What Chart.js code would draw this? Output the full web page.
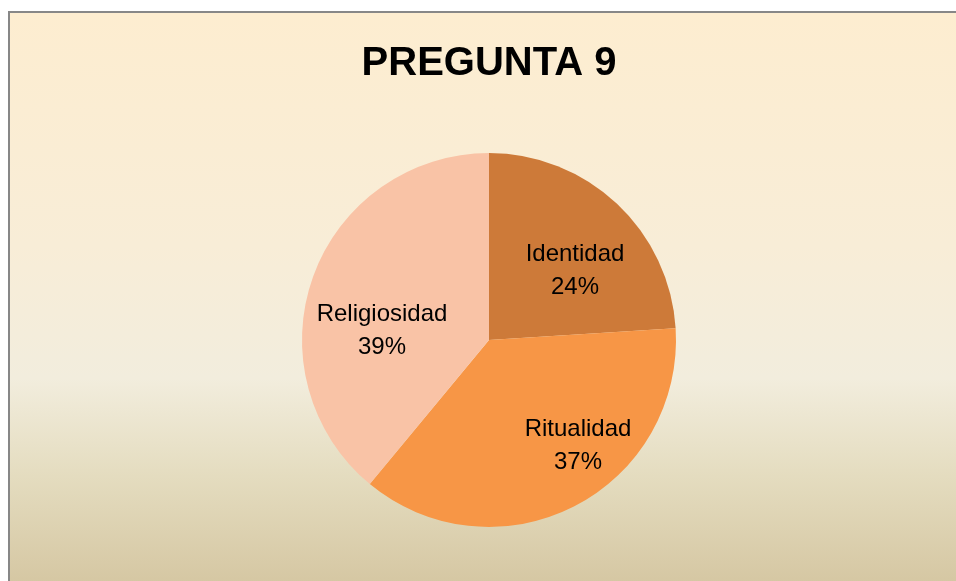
<!DOCTYPE html>
<html>
<head>
<meta charset="utf-8">
<script src="https://cdn.jsdelivr.net/npm/chart.js@4"></script>
<style>
    html, body { margin: 0; padding: 0; background: #ffffff; overflow: hidden; }
    #fondo {
        position: absolute; left: 8px; top: 11px; width: 960px; height: 580px;
        border-left: 2px solid #878787; border-top: 2px solid #878787;
        background: linear-gradient(to bottom, #fdedd0 0%, #f8edd7 40%, #f2eddd 63%, #e4dcbf 80%, #d4c5a0 100%);
    }
    #main { position: absolute; left: 0; top: 0; }
</style>
</head>
<body>
<div id="fondo"></div>
<canvas id="main" width="956" height="581"></canvas>
<script>
// Données
const categories = ['Identidad', 'Ritualidad', 'Religiosidad'];
const valeurs = [24, 37, 39];

const couleurs = ['#cd7a39', '#f79646', '#f9c3a6'];
// position des étiquettes, en fraction du rayon (x, y depuis le centre)
const decalages = [[0.46, -0.375], [0.476, 0.561], [-0.572, -0.052]];

const police = "'Liberation Sans', Arial, sans-serif";

/**
 * Ecrit nom + pourcentage à l'intérieur de chaque part.
 */
const etiquettesPlugin = {
    id: 'etiquettes',
    afterDatasetsDraw(chart) {
        const ctx = chart.ctx;
        const meta = chart.getDatasetMeta(0);
        const total = valeurs.reduce((a, b) => a + b, 0);
        ctx.save();
        ctx.fillStyle = '#000000';
        ctx.font = `24px ${police}`;
        ctx.textAlign = 'center';
        ctx.textBaseline = 'middle';
        meta.data.forEach((arc, i) => {
            const p = arc.getProps(['x', 'y', 'outerRadius'], true);
            const cx = p.x + decalages[i][0] * p.outerRadius;
            const cy = p.y + decalages[i][1] * p.outerRadius;
            const pct = Math.round(valeurs[i] / total * 100) + '%';
            ctx.fillText(categories[i], cx, cy - 16);
            ctx.fillText(pct, cx, cy + 17);
        });
        ctx.restore();
    }
};

new Chart(document.getElementById('main').getContext('2d'), {
    type: 'pie',
    data: {
        labels: categories,
        datasets: [{
            data: valeurs,
            backgroundColor: couleurs,
            borderWidth: 0
        }]
    },
    options: {
        responsive: false,
        animation: false,
        layout: { padding: { left: 302, right: 280, top: 0, bottom: 54 } },
        plugins: {
            legend: { display: false },
            tooltip: { enabled: false },
            title: {
                display: true,
                text: 'PREGUNTA 9',
                color: '#000000',
                font: { family: police, size: 40, weight: 'bold' },
                padding: { top: 40, bottom: 65 }
            }
        }
    },
    plugins: [etiquettesPlugin]
});
</script>
</body>
</html>
